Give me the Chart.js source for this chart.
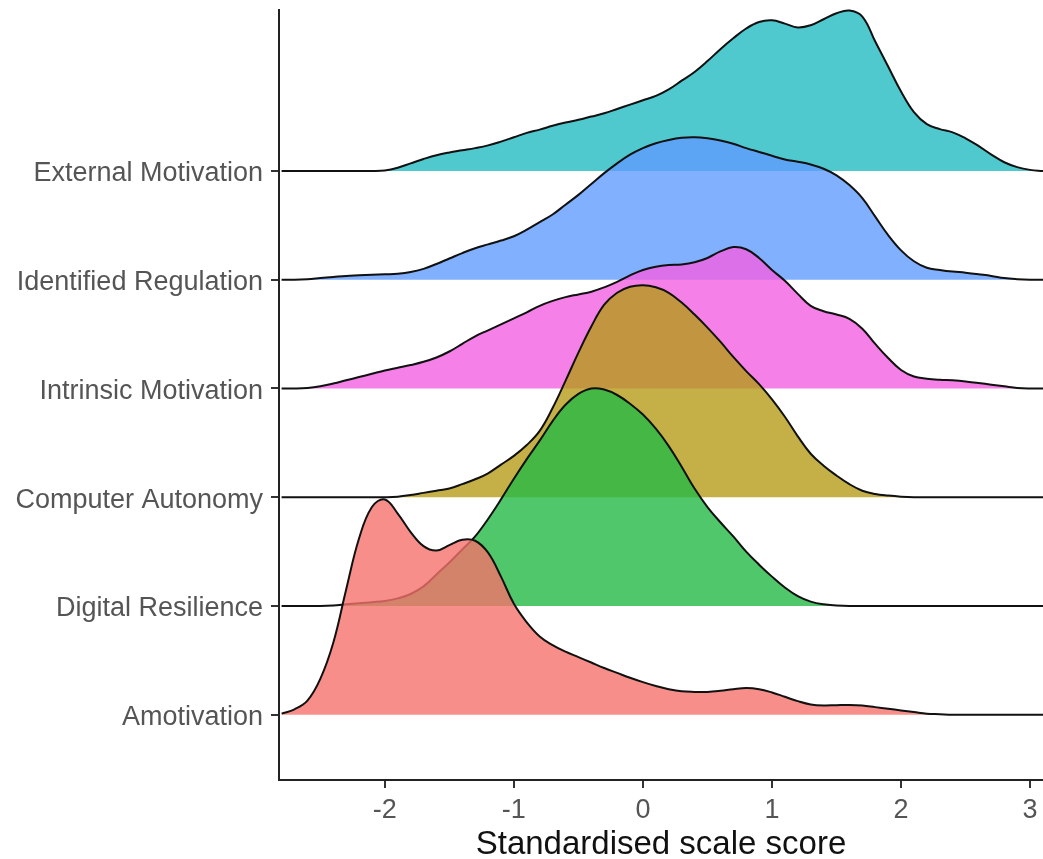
<!DOCTYPE html>
<html>
<head>
<meta charset="utf-8">
<script src="https://cdn.jsdelivr.net/npm/chart.js@4.4.1/dist/chart.umd.min.js"></script>
<style>
  html, body { margin: 0; padding: 0; background: #fff; }
  #wrap { width: 1043px; height: 859px; }
</style>
</head>
<body>
<div id="wrap"><canvas id="ridges" width="1043" height="859"></canvas></div>
<script>
// scale names, bottom row first
const categories = ["Amotivation", "Digital Resilience", "Computer Autonomy",
  "Intrinsic Motivation", "Identified Regulation", "External Motivation"];

const xTicks = [-2, -1, 0, 1, 2, 3];

// score grid the densities are read on
const scores = [-2.8, -2.7, -2.6, -2.5, -2.4, -2.3, -2.2, -2.1, -2.0, -1.9,
  -1.8, -1.7, -1.6, -1.5, -1.4, -1.3, -1.2, -1.1, -1.0, -0.9,
  -0.8, -0.7, -0.6, -0.5, -0.4, -0.3, -0.2, -0.1, 0.0, 0.1,
  0.2, 0.3, 0.4, 0.5, 0.6, 0.7, 0.8, 0.9, 1.0, 1.1,
  1.2, 1.3, 1.4, 1.5, 1.6, 1.7, 1.8, 1.9, 2.0, 2.1,
  2.2, 2.3, 2.4, 2.5, 2.6, 2.7, 2.8, 2.9, 3.0, 3.1];

// ridge heights (in row units) for each scale
const amotivation = [0.01, 0.05, 0.13, 0.33, 0.66, 1.15, 1.62, 1.91, 1.98, 1.85,
  1.68, 1.55, 1.51, 1.56, 1.61, 1.60, 1.49, 1.27, 1.02, 0.85,
  0.72, 0.64, 0.58, 0.53, 0.48, 0.43, 0.385, 0.34, 0.30, 0.265,
  0.235, 0.215, 0.21, 0.21, 0.22, 0.235, 0.245, 0.235, 0.205, 0.165,
  0.125, 0.095, 0.085, 0.088, 0.09, 0.085, 0.07, 0.055, 0.04, 0.025,
  0.01, 0.005, 0, 0, 0, 0, 0, 0, 0, 0];

const digitalResilience = [0, 0, 0, 0, 0.005, 0.015, 0.025, 0.035, 0.045, 0.07,
  0.11, 0.18, 0.29, 0.40, 0.52, 0.64, 0.80, 0.98, 1.17, 1.35,
  1.52, 1.70, 1.85, 1.95, 2.00, 1.99, 1.94, 1.86, 1.76, 1.63,
  1.47, 1.28, 1.08, 0.91, 0.77, 0.64, 0.50, 0.38, 0.27, 0.17,
  0.09, 0.04, 0.015, 0.005, 0, 0, 0, 0, 0, 0,
  0, 0, 0, 0, 0, 0, 0, 0, 0, 0];

const computerAutonomy = [0, 0, 0, 0, 0, 0, 0, 0, 0, 0.005,
  0.02, 0.04, 0.06, 0.08, 0.12, 0.165, 0.22, 0.30, 0.38, 0.48,
  0.61, 0.82, 1.07, 1.33, 1.57, 1.77, 1.88, 1.935, 1.95, 1.93,
  1.88, 1.79, 1.68, 1.56, 1.43, 1.29, 1.16, 1.04, 0.90, 0.74,
  0.56, 0.40, 0.29, 0.20, 0.12, 0.06, 0.03, 0.015, 0.005, 0,
  0, 0, 0, 0, 0, 0, 0, 0, 0, 0];

const intrinsicMotivation = [0, 0, 0.005, 0.02, 0.045, 0.075, 0.105, 0.135, 0.165, 0.19,
  0.215, 0.245, 0.285, 0.34, 0.41, 0.48, 0.535, 0.59, 0.645, 0.70,
  0.76, 0.805, 0.84, 0.865, 0.89, 0.93, 0.98, 1.04, 1.09, 1.12,
  1.135, 1.14, 1.16, 1.20, 1.26, 1.30, 1.28, 1.20, 1.09, 0.99,
  0.87, 0.76, 0.71, 0.68, 0.64, 0.55, 0.41, 0.28, 0.17, 0.11,
  0.09, 0.08, 0.075, 0.065, 0.05, 0.035, 0.02, 0.005, 0, 0];

const identifiedRegulation = [0, 0, 0.005, 0.015, 0.025, 0.035, 0.04, 0.045, 0.05, 0.055,
  0.07, 0.10, 0.145, 0.195, 0.245, 0.29, 0.325, 0.36, 0.40, 0.46,
  0.53, 0.60, 0.69, 0.78, 0.88, 0.98, 1.07, 1.15, 1.21, 1.255,
  1.285, 1.305, 1.31, 1.30, 1.28, 1.25, 1.21, 1.175, 1.14, 1.105,
  1.085, 1.06, 1.02, 0.96, 0.87, 0.75, 0.58, 0.41, 0.27, 0.17,
  0.11, 0.09, 0.075, 0.065, 0.05, 0.035, 0.015, 0.005, 0, 0];

const externalMotivation = [0, 0, 0, 0, 0, 0, 0, 0, 0.005, 0.03,
  0.07, 0.11, 0.145, 0.17, 0.19, 0.21, 0.235, 0.27, 0.31, 0.35,
  0.38, 0.415, 0.445, 0.47, 0.50, 0.53, 0.57, 0.61, 0.65, 0.69,
  0.75, 0.83, 0.91, 1.01, 1.12, 1.22, 1.31, 1.37, 1.385, 1.355,
  1.32, 1.34, 1.395, 1.45, 1.475, 1.42, 1.19, 0.96, 0.73, 0.54,
  0.43, 0.385, 0.355, 0.30, 0.23, 0.15, 0.08, 0.035, 0.01, 0];

const heights = [amotivation, digitalResilience, computerAutonomy,
  intrinsicMotivation, identifiedRegulation, externalMotivation];

const fills = [
  "rgba(246, 114, 108, 0.8)",
  "rgba(36, 185, 69, 0.8)",
  "rgba(181, 156, 24, 0.8)",
  "rgba(242, 96, 226, 0.8)",
  "rgba(96, 156, 255, 0.8)",
  "rgba(36, 188, 194, 0.8)",
];

// row i sits on baseline i + 1; index 0 is painted last so lower rows overlap upper ones
const datasets = categories.map((name, i) => ({
  label: name,
  data: scores.map((x, j) => ({ x: x, y: i + 1 + heights[i][j] })),
  fill: { value: i + 1 },
  backgroundColor: fills[i],
  borderColor: "#111",
  borderWidth: 2,
  pointRadius: 0,
  tension: 0.4,
  clip: false,
}));

const font = "'Liberation Sans', Arial, Helvetica, sans-serif";

new Chart(document.getElementById("ridges").getContext("2d"), {
  type: "line",
  data: { datasets: datasets },
  options: {
    responsive: false,
    animation: false,
    layout: { padding: { top: 10, right: 0, left: 0, bottom: 0 } },
    plugins: {
      legend: { display: false },
      tooltip: { enabled: false },
    },
    scales: {
      x: {
        type: "linear",
        min: -2.82,
        max: 3.1,
        afterBuildTicks: (axis) => {
          axis.ticks = xTicks.map((v) => ({ value: v }));
        },
        afterFit: (axis) => {
          axis.height = 79;
          axis.paddingLeft = 0;
          axis.paddingRight = 0;
        },
        grid: { drawOnChartArea: false, drawTicks: true, tickLength: 8, color: "#333", lineWidth: 2 },
        border: { display: true, color: "#222", width: 2 },
        ticks: {
          color: "#555",
          padding: 6,
          font: { family: font, size: 27 },
          callback: (v) => String(v),
        },
        title: {
          display: true,
          text: "Standardised scale score",
          color: "#111",
          padding: { top: 0, bottom: -6 },
          font: { family: font, size: 33 },
        },
      },
      y: {
        type: "linear",
        min: 0.4,
        max: 7.48,
        afterBuildTicks: (axis) => {
          axis.ticks = categories.map((_, i) => ({ value: i + 1 }));
        },
        afterFit: (axis) => {
          axis.width = 279;
          axis.paddingTop = 0;
          axis.paddingBottom = 0;
        },
        grid: { drawOnChartArea: false, drawTicks: true, tickLength: 8, color: "#333", lineWidth: 2 },
        border: { display: true, color: "#222", width: 2 },
        ticks: {
          color: "#555",
          padding: 8,
          labelOffset: 3,
          font: { family: font, size: 27 },
          callback: (v) => categories[v - 1],
        },
      },
    },
  },
});
</script>
</body>
</html>
